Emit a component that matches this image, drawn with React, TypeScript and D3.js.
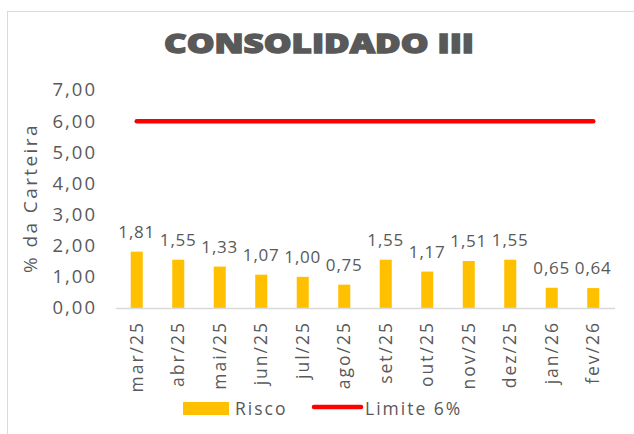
import React from "react";
import * as d3 from "d3";

const categories = ["mar/25", "abr/25", "mai/25", "jun/25", "jul/25", "ago/25", "set/25", "out/25", "nov/25", "dez/25", "jan/26", "fev/26"];
const risco = [1.81, 1.55, 1.33, 1.07, 1.0, 0.75, 1.55, 1.17, 1.51, 1.55, 0.65, 0.64];
const limite = [6, 6, 6, 6, 6, 6, 6, 6, 6, 6, 6, 6];
const yTicks = [0, 1, 2, 3, 4, 5, 6, 7];
const title = "CONSOLIDADO III";
const seriesNames = ["Risco", "Limite 6%"];

const W = 634;
const H = 434;
const FONT = "'Open Sans', 'Noto Sans', sans-serif";
const TXT = "#595959";

export default function App() {
  const x = d3.scaleBand<string>().domain(categories).range([116, 614]).paddingInner(0.71).paddingOuter(0.355);
  const y = d3.scaleLinear().domain([0, 7]).range([308, 90]);
  const fmt = (v: number) => v.toFixed(2).replace(".", ",");
  const cx = (c: string) => (x(c) as number) + x.bandwidth() / 2;
  const line = d3
    .line<number>()
    .x((_, i) => cx(categories[i]))
    .y((d) => y(d));

  return (
    <div style={{ position: "absolute", left: 0, top: 0 }}>
      <svg width={W} height={H} style={{ display: "block", background: "#fff" }}>
        <rect x={7.5} y={11.5} width={700} height={500} fill="#fff" stroke="#D9D9D9" strokeWidth={1} />
        <text x={319} y={53} textAnchor="middle" fontFamily={FONT} fontWeight={800} fontSize={26} fill={TXT} stroke={TXT} strokeWidth={1.3} textLength={310} lengthAdjust="spacingAndGlyphs">
          {title}
        </text>
        {yTicks.map((t) => (
          <text key={t} x={97} y={y(t)} dy="0.35em" textAnchor="end" fontFamily={FONT} fontSize={18.5} letterSpacing={2} fill={TXT}>
            {fmt(t)}
          </text>
        ))}
        <text transform={`translate(37,198) rotate(-90)`} textAnchor="middle" fontFamily={FONT} fontSize={19} letterSpacing={2.4} fill={TXT}>
          % da Carteira
        </text>
        {categories.map((c, i) => (
          <rect key={c} x={x(c)} y={y(risco[i])} width={x.bandwidth()} height={y(0) - y(risco[i])} fill="#FFC000" />
        ))}
        <line x1={116} x2={615} y1={308.5} y2={308.5} stroke="#D9D9D9" strokeWidth={1.5} />
        <path d={line(limite) || ""} fill="none" stroke="#FF0000" strokeWidth={4.5} strokeLinecap="round" />
        {categories.map((c, i) => (
          <text key={c} x={cx(c)} y={y(risco[i]) - 14} textAnchor="middle" fontFamily={FONT} fontSize={17} letterSpacing={0.8} fill={TXT}>
            {fmt(risco[i])}
          </text>
        ))}
        {categories.map((c) => (
          <text key={c} transform={`translate(${cx(c)},321) rotate(-90)`} dy="0.35em" textAnchor="end" fontFamily={FONT} fontSize={17.5} letterSpacing={2} fill={TXT}>
            {c}
          </text>
        ))}
        <rect x={183} y={402} width={46} height={13} fill="#FFC000" />
        <text x={235} y={409} dy="0.35em" fontFamily={FONT} fontSize={17.5} letterSpacing={2} fill={TXT}>
          {seriesNames[0]}
        </text>
        <line x1={314} x2={361} y1={407} y2={407} stroke="#FF0000" strokeWidth={4.5} strokeLinecap="round" />
        <text x={365} y={409} dy="0.35em" fontFamily={FONT} fontSize={17.5} letterSpacing={2} fill={TXT}>
          {seriesNames[1]}
        </text>
      </svg>
    </div>
  );
}
